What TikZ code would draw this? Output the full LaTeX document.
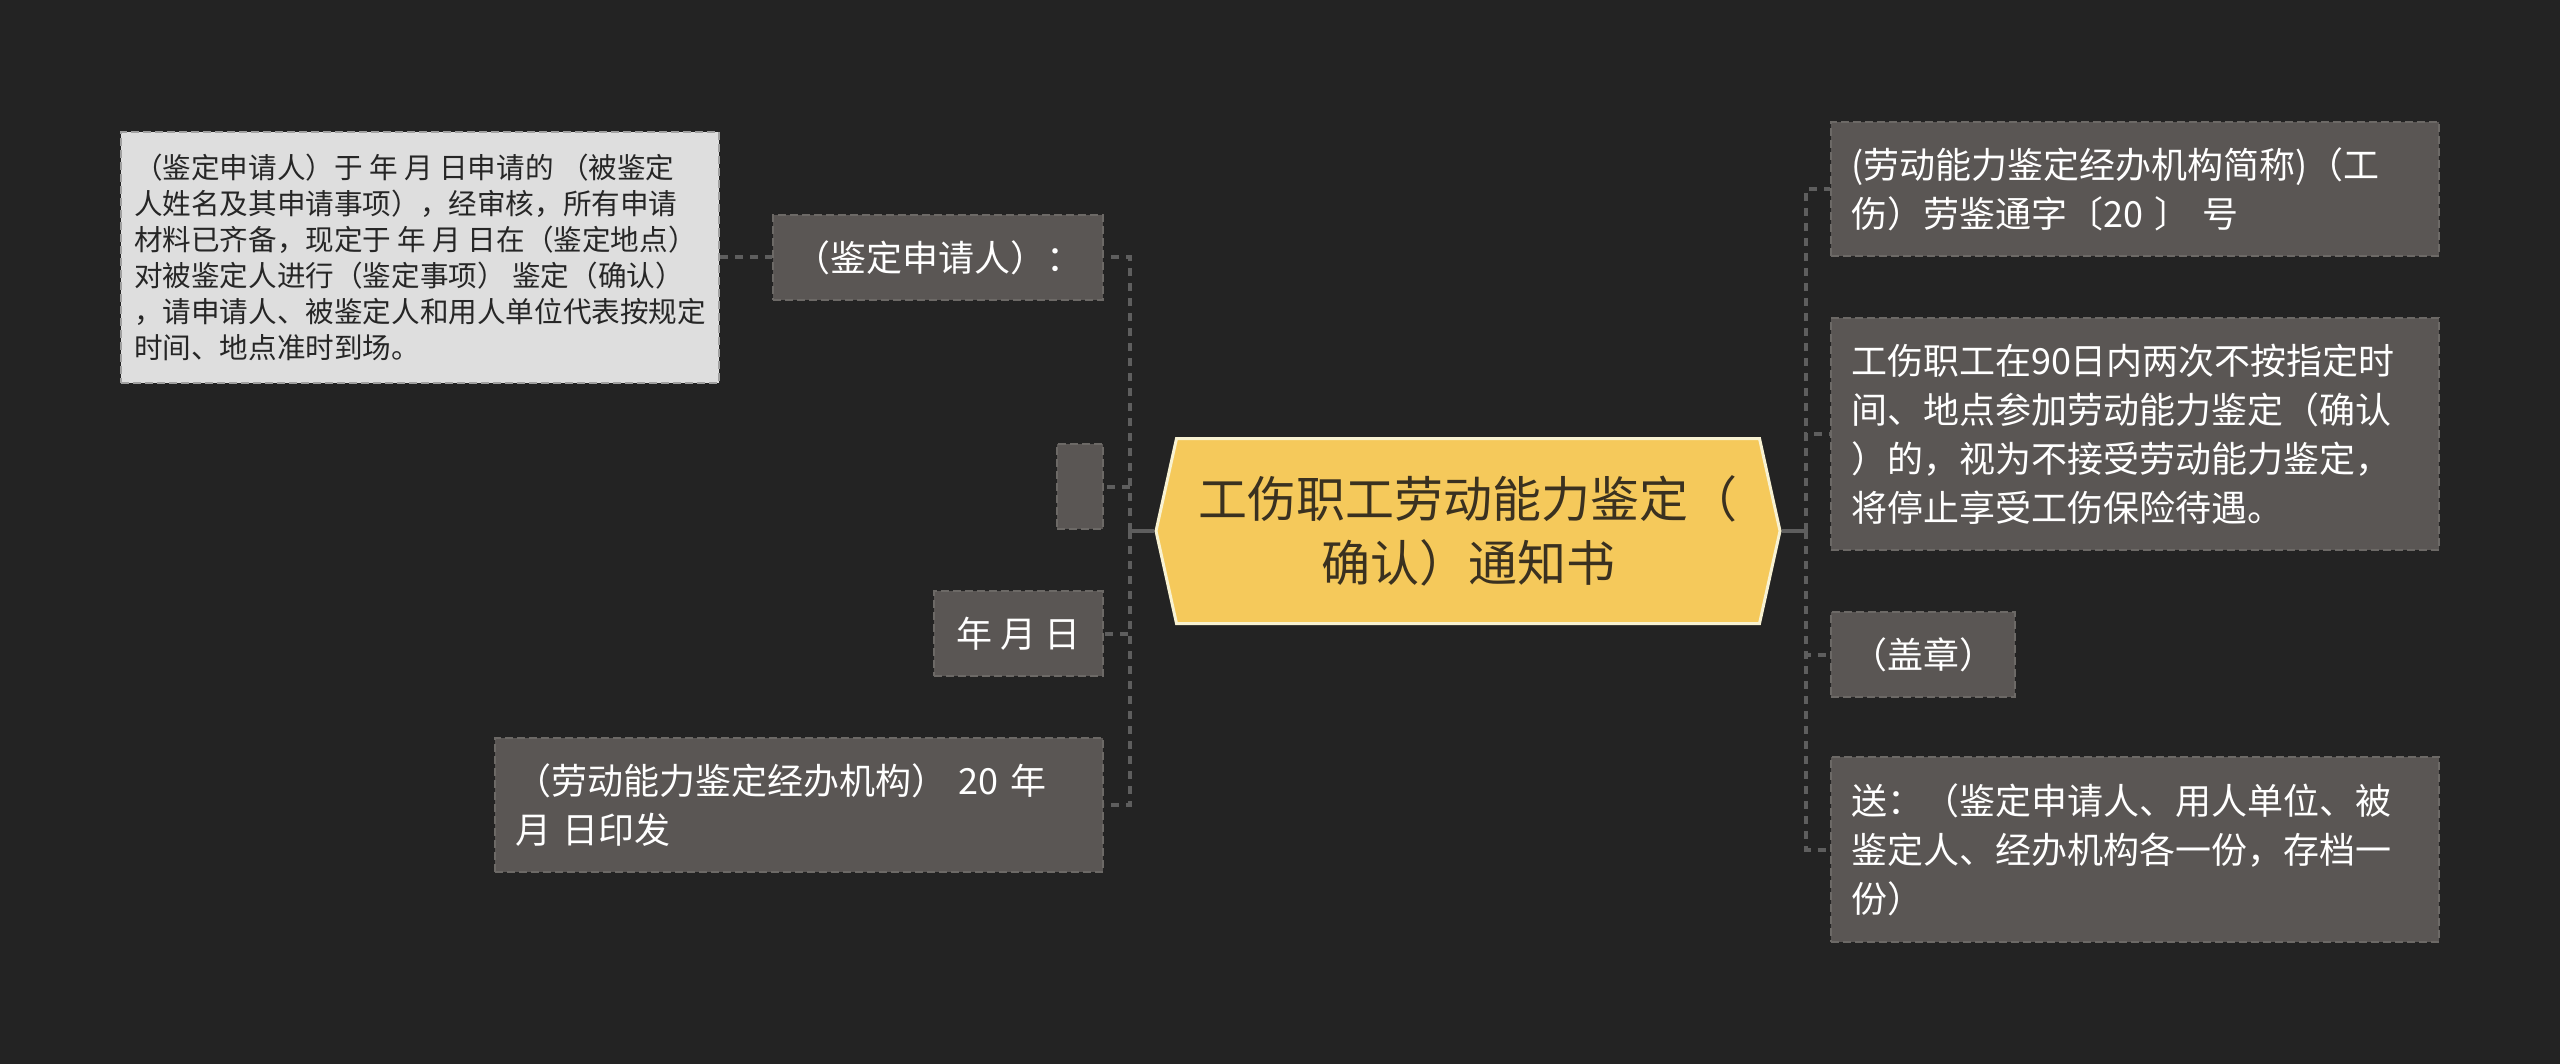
\documentclass[tikz,border=0pt]{standalone}
\usepackage{fontspec}
\newfontfamily\cjk{Noto Sans CJK SC}
\usetikzlibrary{shapes.symbols}
\definecolor{bgcol}{HTML}{232323}
\definecolor{leafcol}{HTML}{5A5654}
\definecolor{leafline}{HTML}{6C6966}
\definecolor{notecol}{HTML}{DEDEDE}
\definecolor{noteline}{HTML}{A0A0A0}
\definecolor{rootcol}{HTML}{F5C95B}
\definecolor{rootline}{HTML}{F8F2D2}
\definecolor{roottext}{HTML}{3A3120}
\definecolor{linkcol}{HTML}{5E5E5E}
\begin{document}
\begin{tikzpicture}[x = .5pt, y = -.5pt,
    leaf/.style = {draw = leafline, fill = leafcol, line width = 1pt, dash pattern = on 4pt off 2pt,
      text = white, font = \cjk\fontsize{18}{24.5}\selectfont, align = left,
      inner xsep = 10pt, inner ysep = 4pt, minimum height = 42.5pt},
    note/.style = {leaf, draw = noteline, fill = notecol, text = black!85,
      font = \cjk\fontsize{14.3}{18}\selectfont, inner xsep = 6pt},
    link/.style = {draw = linkcol, line width = 2pt, dash pattern = on 4pt off 3.5pt},
    stub/.style = {draw = linkcol, line width = 2pt}]
  \fill [bgcol] (0,0) rectangle (2560,1064);
  \node [signal, signal to = west and east, signal pointer angle = 155, draw = rootline, line width = 1.5pt,
    fill = rootcol, text = roottext, font = \cjk\fontsize{24.5}{32}\selectfont, align = center,
    minimum width = 312pt, minimum height = 92.5pt] (root) at (1468,531) {工伤职工劳动能力鉴定（\\确认）通知书};
  \node [leaf, anchor = east, minimum width = 165pt] (l1) at (1104,257.5) {（鉴定申请人）：};
  \node [leaf, anchor = east, minimum width = 23pt] (l2) at (1104,486.5) {};
  \node [leaf, anchor = east, minimum width = 84.5pt] (l3) at (1104,633.5) {年 月 日};
  \node [leaf, anchor = east, text width = 284pt, minimum height = 67pt] (l4) at (1104,805)
    {（劳动能力鉴定经办机构） 20 年\\月 日印发};
  \node [note, anchor = east, minimum width = 299pt, minimum height = 125pt] (note) at (720,257.5)
    {（鉴定申请人）于 年 月 日申请的 （被鉴定\\人姓名及其申请事项），经审核，所有申请\\材料已齐备，现定于 年 月 日在（鉴定地点）\\对被鉴定人进行（鉴定事项） 鉴定（确认）\\，请申请人、被鉴定人和用人单位代表按规定\\时间、地点准时到场。};
  \node [leaf, anchor = west, text width = 284pt, minimum height = 67pt] (r1) at (1830,189)
    {(劳动能力鉴定经办机构简称)（工\\伤）劳鉴通字〔20 〕 号};
  \node [leaf, anchor = west, text width = 284pt, minimum height = 116pt] (r2) at (1830,434)
    {工伤职工在90日内两次不按指定时\\间、地点参加劳动能力鉴定（确认\\）的，视为不接受劳动能力鉴定，\\将停止享受工伤保险待遇。};
  \node [leaf, anchor = west, minimum width = 91.5pt] (r3) at (1830,654.5) {（盖章）};
  \node [leaf, anchor = west, text width = 284pt, minimum height = 92.5pt] (r4) at (1830,849.5)
    {送：（鉴定申请人、用人单位、被\\鉴定人、经办机构各一份，存档一\\份）};
  \coordinate (ltrunk) at (1130,531);
  \coordinate (rtrunk) at (1806,531);
  \draw [stub] (root.west) -- (ltrunk);
  \draw [stub] (root.east) -- (rtrunk);
  \draw [link] (ltrunk) |- (l1.east) (ltrunk) |- (l2.east) (ltrunk) |- (l3.east) (ltrunk) |- (l4.east);
  \draw [link] (rtrunk) |- (r1.west) (rtrunk) |- (r2.west) (rtrunk) |- (r3.west) (rtrunk) |- (r4.west);
  \draw [link] (note.east) -- (l1.west);
\end{tikzpicture}
\end{document}
